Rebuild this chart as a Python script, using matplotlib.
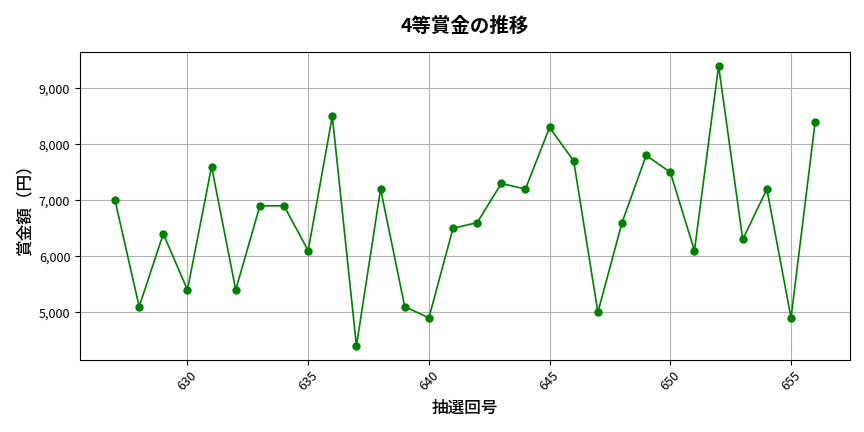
import matplotlib
matplotlib.use("Agg")
import matplotlib.pyplot as plt
from matplotlib.ticker import FuncFormatter

plt.rcParams['font.family'] = ['Noto Sans CJK JP', 'DejaVu Sans']

draws = list(range(627, 657))
prizes = [7000, 5100, 6400, 5400, 7600, 5400, 6900, 6900, 6100, 8500,
          4400, 7200, 5100, 4900, 6500, 6600, 7300, 7200, 8300, 7700,
          5000, 6600, 7800, 7500, 6100, 9400, 6300, 7200, 4900, 8400]

fig, ax = plt.subplots(figsize=(8.64, 4.32), dpi=100)
fig.subplots_adjust(left=0.0926, right=0.984, top=0.88, bottom=0.167)

ax.plot(draws, prizes, color='green', marker='o', markersize=5, linewidth=1.2)
ax.set_title('4等賞金の推移', fontsize=14, fontweight='bold', pad=14)
ax.set_xlabel('抽選回号', fontsize=12, fontweight='medium')
ax.set_ylabel('賞金額（円）', fontsize=12, fontweight='medium')
ax.yaxis.set_major_formatter(FuncFormatter(lambda v, p: f'{int(v):,}'))
ax.grid(True, color='#b0b0b0', linewidth=0.8)
ax.set_axisbelow(True)
plt.setp(ax.get_xticklabels(), rotation=45)
ax.tick_params(labelsize=9)

fig.savefig('out.png', dpi=100)
